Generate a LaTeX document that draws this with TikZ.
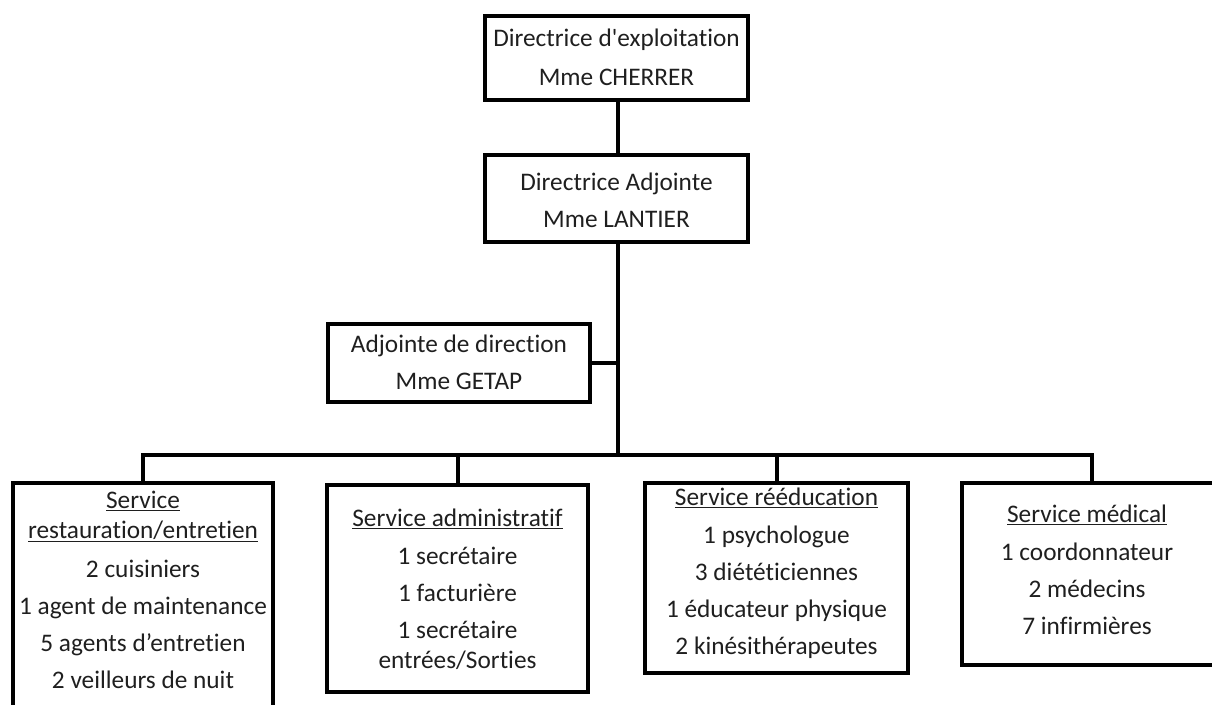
\documentclass[tikz,border=0pt]{standalone}
\usepackage{fontspec}
\setmainfont{Carlito}[Ligatures={TeX,NoCommon}]
\begin{document}
\begin{tikzpicture}[x=1pt,y=-1pt,
  box/.style={draw=black, line width=4pt, rectangle, inner sep=0pt},
  txt/.style={align=center, inner sep=0pt, font=\fontsize{25.3}{30}\selectfont, text=black!88},
  wire/.style={line width=4pt, line join=miter}]
\useasboundingbox (0,0) rectangle (1212,704);
\clip (0,0) rectangle (1212,704);
% boxes
\node[box, minimum width=263pt, minimum height=84pt] (b1) at (616.5,58) {};
\node[box, minimum width=263pt, minimum height=87pt] (b2) at (616.5,198.5) {};
\node[box, minimum width=262pt, minimum height=78pt] (b3) at (459,363) {};
\node[box, minimum width=260pt, minimum height=237pt] (bA) at (143,601.5) {};
\node[box, minimum width=261pt, minimum height=207pt] (bB) at (457.5,588.5) {};
\node[box, minimum width=263pt, minimum height=190pt] (bC) at (776.5,578) {};
\node[box, minimum width=260pt, minimum height=182pt] (bD) at (1092,574) {};
% texts
\node[txt] (t1) at (616.5,57.5) {Directrice d\textquotesingle exploitation\\[9pt]Mme CHERRER};
\node[txt] (t2) at (616.5,200.5) {Directrice Adjointe\\[7pt]Mme LANTIER};
\node[txt] (t3) at (459,362.5) {Adjointe de direction\\[7pt]Mme GETAP};
\node[txt] (tA) at (143,590) {\underline{Service}\\\underline{restauration/entretien}\\[9pt]2 cuisiniers\\[7pt]1 agent de maintenance\\[7pt]5 agents d’entretien\\[7pt]2 veilleurs de nuit};
\node[txt] (tB) at (457.5,589.5) {\underline{Service administratif}\\[8pt]1 secrétaire\\[7pt]1 facturière\\[7pt]1 secrétaire\\entrées/Sorties};
\node[txt] (tC) at (776.5,573) {\underline{Service rééducation}\\[8pt]1 psychologue\\[7pt]3 diététiciennes\\[7pt]1 éducateur physique\\[7pt]2 kinésithérapeutes};
\node[txt] (tD) at (1087,569.5) {\underline{Service médical}\\[8pt]1 coordonnateur\\[7pt]2 médecins\\[7pt]7 infirmières};
% connectors
\coordinate (bus) at (617.5,455);
\coordinate (j3) at (617.5,363);
\draw[wire] (b1.south -| bus) -- (b2.north -| bus);
\draw[wire] (b2.south -| bus) -- (bus);
\draw[wire] (b3.east) -- (j3);
\draw[wire] (bA.north) |- (bus) -| (bD.north);
\draw[wire] (bB.north) -- (bB.north |- bus);
\draw[wire] (bC.north) -- (bC.north |- bus);
\end{tikzpicture}
\end{document}
